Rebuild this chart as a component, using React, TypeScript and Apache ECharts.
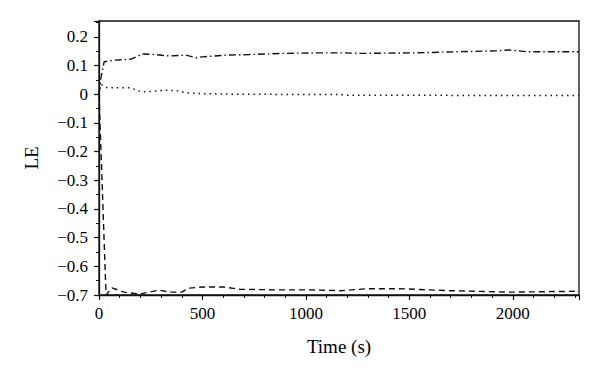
import React, { useEffect, useRef } from "react";
import * as echarts from "echarts";

const upperT = [0, 10, 25, 65, 155, 210, 275, 340, 420, 468, 500, 615, 726, 886, 1050, 1195, 1258, 1534, 1742, 1920, 1985, 2066, 2320];
const upperV = [0, 0.06, 0.113, 0.118, 0.122, 0.14, 0.138, 0.133, 0.136, 0.127, 0.13, 0.136, 0.138, 0.142, 0.144, 0.144, 0.142, 0.144, 0.148, 0.151, 0.154, 0.148, 0.148];

const middleT = [0, 8, 32, 145, 200, 226, 323, 380, 420, 484, 645, 900, 1150, 1210, 1600, 2000, 2320];
const middleV = [0, 0.035, 0.023, 0.022, 0.01, 0.008, 0.014, 0.012, 0.005, 0.002, 0, -0.001, -0.001, -0.004, -0.004, -0.005, -0.005];

const lowerT = [0, 34, 63, 120, 195, 290, 340, 400, 435, 500, 600, 680, 850, 1000, 1170, 1300, 1450, 1700, 1990, 2320];
const lowerV = [0, -0.7, -0.675, -0.69, -0.697, -0.683, -0.69, -0.69, -0.676, -0.672, -0.672, -0.68, -0.682, -0.682, -0.685, -0.678, -0.678, -0.685, -0.69, -0.687];

const xTickLabels = ["0", "500", "1000", "1500", "2000"];
const yTickLabels = ["−0.7", "−0.6", "−0.5", "−0.4", "−0.3", "−0.2", "−0.1", "0", "0.1", "0.2"];

const pairs = (t: number[], v: number[]) => t.map((x, i) => [x, v[i]]);

const FONT = "'Liberation Serif', 'Times New Roman', serif";

export default function App() {
  const ref = useRef<HTMLDivElement>(null);
  useEffect(() => {
    if (!ref.current) return;
    const chart = echarts.init(ref.current, undefined, { renderer: "svg" });
    const line = (data: number[][], type: any, width: number) => ({
      type: "line",
      data,
      showSymbol: false,
      symbol: "none",
      lineStyle: { color: "#111", width, type },
      z: 3,
    });
    chart.setOption({
      animation: false,
      backgroundColor: "#fff",
      grid: {
        left: 99,
        right: 21,
        top: 21,
        bottom: 85,
        show: true,
        borderColor: "#111",
        borderWidth: 1.3,
      },
      xAxis: {
        type: "value",
        min: 0,
        max: 2320,
        interval: 500,
        name: "Time (s)",
        nameLocation: "middle",
        nameGap: 42,
        nameTextStyle: { fontFamily: FONT, fontSize: 19, color: "#000" },
        axisLine: { onZero: false, lineStyle: { color: "#111", width: 1.3 } },
        axisTick: { show: true, inside: false, length: 5, lineStyle: { color: "#111", width: 1.2 } },
        minorTick: { show: true, splitNumber: 5, length: 3, lineStyle: { color: "#111", width: 1 } },
        splitLine: { show: false },
        axisLabel: {
          showMaxLabel: false,
          margin: 10,
          fontFamily: FONT,
          fontSize: 17,
          color: "#000",
          formatter: (v: number) => {
            const i = Math.round(v / 500);
            return Math.abs(v - i * 500) < 1e-6 && xTickLabels[i] !== undefined ? xTickLabels[i] : "";
          },
        },
      },
      yAxis: {
        type: "value",
        min: -0.7,
        max: 0.255,
        interval: 0.1,
        name: "LE",
        nameLocation: "middle",
        nameGap: 58,
        nameTextStyle: { fontFamily: FONT, fontSize: 19, color: "#000" },
        axisLine: { onZero: false, lineStyle: { color: "#111", width: 1.3 } },
        axisTick: { show: true, inside: false, length: 5, lineStyle: { color: "#111", width: 1.2 } },
        minorTick: { show: true, splitNumber: 2, length: 3, lineStyle: { color: "#111", width: 1 } },
        splitLine: { show: false },
        axisLabel: {
          showMaxLabel: false,
          margin: 11,
          fontFamily: FONT,
          fontSize: 17,
          color: "#000",
          formatter: (v: number) => {
            const i = Math.round((v + 0.7) / 0.1);
            return Math.abs(v - (-0.7 + i * 0.1)) < 1e-6 && yTickLabels[i] !== undefined ? yTickLabels[i] : "";
          },
        },
      },
      series: [
        line(pairs(upperT, upperV), [7, 3, 1.5, 3], 1.4),
        line(pairs(middleT, middleV), [1.5, 4], 1.5),
        line(pairs(lowerT, lowerV), [6, 4], 1.4),
      ],
    });
    return () => chart.dispose();
  }, []);
  return <div ref={ref} style={{ width: 600, height: 380, position: "absolute", left: 0, top: 0 }} />;
}
